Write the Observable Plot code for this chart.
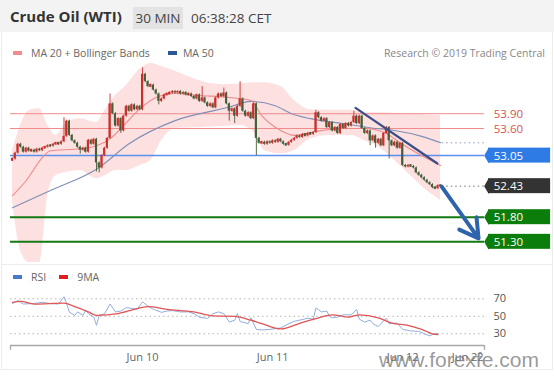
<!DOCTYPE html>
<html><head><meta charset="utf-8">
<script src="https://cdn.jsdelivr.net/npm/d3@7"></script>
<script src="https://cdn.jsdelivr.net/npm/@observablehq/plot@0.6"></script>
<style>
body{margin:0;background:#fff;font-family:"Open Sans",sans-serif;}
#root{position:relative;width:554px;height:376px;overflow:hidden;background:#fff;}
.abs{position:absolute;white-space:nowrap;}
#frame{left:1px;top:32px;width:550px;height:337px;border:1px solid #ececec;border-top:none;}
#sep{left:1px;top:264px;width:551px;height:1px;background:#ececec;}
#header{left:0;top:0;width:554px;height:32px;background:#f3f3f3;}
#title{left:10px;top:6px;font-size:15px;font-weight:bold;color:#333;}
#tf{left:133px;top:7px;width:50px;height:22px;background:#e3e3e3;font-size:13.5px;color:#444;line-height:22px;text-align:center;}
#clock{left:191px;top:6px;font-size:13.5px;color:#444;line-height:24px;}
.leg{font-size:10.5px;color:#666;line-height:14px;}
.sw{display:inline-block;width:9px;height:4px;vertical-align:middle;margin-right:9px;position:relative;top:-1px;}
#credit{right:9px;top:46px;font-size:10.5px;color:#888;line-height:14px;}
#wm{left:379px;top:348px;font-family:"Liberation Sans",Arial,sans-serif;font-size:21px;line-height:24px;color:rgba(120,120,120,0.75);}
</style></head>
<body><div id="root">
<div id="header" class="abs"></div>
<div id="title" class="abs">Crude Oil (WTI)</div>
<div id="tf" class="abs">30 MIN</div>
<div id="clock" class="abs">06:38:28 CET</div>
<div id="frame" class="abs"></div>
<div id="sep" class="abs"></div>
<div class="abs leg" style="left:13px;top:46px;"><span class="sw" style="background:#f28b8b"></span>MA 20 + Bollinger Bands<span class="sw" style="background:#2b5797;margin-left:18px;margin-right:6px"></span>MA 50</div>
<div id="credit" class="abs">Research © 2019 Trading Central</div>
<div id="main" class="abs" style="left:0;top:60px;"></div>
<div class="abs leg" style="left:13px;top:270px;"><span class="sw" style="background:#4a78c8"></span>RSI<span class="sw" style="background:#e02020;margin-left:13px"></span>9MA</div>
<div id="rsi" class="abs" style="left:0;top:285px;"></div>
<div id="wm" class="abs">www.forexfe.com</div>
</div>
<script>
// ---------- data ----------
const firstOpen = 52.95;
const closes = [52.98,53.10,53.28,53.22,53.12,53.20,53.14,53.16,53.12,53.18,
53.15,53.20,53.22,53.25,53.24,53.28,53.30,53.28,53.33,53.44,
53.75,53.46,53.35,53.30,53.22,53.16,53.20,53.12,53.36,53.28,
53.38,52.90,52.80,53.05,53.20,53.40,54.10,53.90,53.65,53.80,
53.55,53.85,54.05,53.95,54.08,53.98,54.05,53.98,54.70,54.55,
54.45,54.48,54.38,54.30,54.15,54.20,54.28,54.30,54.32,54.35,
54.32,54.35,54.30,54.33,54.28,54.30,54.25,54.20,54.28,54.15,
54.22,54.12,54.05,54.10,54.02,54.22,54.30,54.25,54.32,54.10,
53.95,54.00,53.85,54.05,54.20,53.95,53.85,53.92,53.80,54.10,
53.40,53.30,53.32,53.28,53.33,53.30,53.35,53.32,53.38,53.33,
53.28,53.26,53.32,53.36,53.40,53.45,53.42,53.48,53.45,53.50,
53.48,53.52,53.92,53.82,53.75,53.80,53.62,53.72,53.55,53.62,
53.50,53.68,53.60,53.70,53.65,53.72,53.85,53.70,53.85,53.60,
53.50,53.55,53.35,53.45,53.30,53.38,53.25,53.50,53.62,53.35,
53.25,53.32,53.20,53.30,52.85,52.82,52.85,52.83,52.80,52.70,
52.65,52.60,52.55,52.50,52.46,52.40,52.38,52.44,52.43];
const wickHighIdx = [19,36,48,70,78,84,112,126];
const wickHighVal = [53.82,54.30,54.83,54.45,54.42,54.55,53.97,53.95];
const wickLowIdx = [25,31,32,40,54,80,82,90,132,134,139];
const wickLowVal = [53.08,52.72,52.70,53.50,54.08,53.75,53.70,53.05,53.25,53.20,52.98];

const bandIdx = [0,3,6,10,13,16,20,25,31,34,38,42,47,51,55,60,69,77,84,90,93,99,104,110,117,125,130,136,141,147,152,158];
const bandUpper = [53.15,53.66,53.96,54.00,53.66,53.46,53.72,53.80,53.72,53.96,54.27,54.47,54.80,54.92,54.86,54.76,54.57,54.49,54.51,54.53,54.53,54.45,54.17,53.98,53.97,53.97,53.92,53.92,53.91,53.89,53.88,53.86];
const bandLower = [52.14,51.12,50.88,50.88,52.24,52.64,52.71,52.75,52.58,52.64,52.75,52.75,52.85,52.95,53.35,53.60,53.62,53.64,53.66,53.46,53.15,53.09,53.15,53.39,53.46,53.46,53.35,53.19,52.95,52.64,52.38,52.14];

const ma20Idx = [0,5,11,14,25,31,36,42,47,53,60,69,80,88,92,99,104,112,121,130,138,143,151,158];
const ma20Val = [52.24,52.54,53.01,53.15,53.19,53.25,53.39,53.72,54.00,54.23,54.31,54.27,54.23,54.17,53.86,53.56,53.46,53.54,53.60,53.60,53.50,53.31,53.05,52.85];
const ma50Idx = [0,14,32,43,60,79,88,97,103,110,122,134,141,151,158];
const ma50Val = [51.99,52.34,52.81,53.29,53.76,54.02,54.15,54.06,53.90,53.80,53.70,53.60,53.56,53.44,53.31];

const levelValues = [53.90,53.60,53.05,52.43,51.80,51.30];
const levelKinds = ["res","res","pivot","last","sup","sup"];
const ma50Last = 53.31;

const trendIdx = [126.6,156.8];
const trendVal = [54.02,52.89];
const arrowIdx = [158.4,172];
const arrowVal = [52.42,51.37];

const rsiIdx = [0,2,4,7,9,11,14,17,19,20,21,23,24,26,27,28,30,31,32,34,36,38,40,42,44,46,48,50,52,55,57,59,62,65,67,69,72,74,76,78,80,82,83,84,87,88,90,92,95,99,102,104,106,109,111,112,114,116,117,118,120,122,125,127,128,130,132,133,135,137,138,139,141,142,144,147,150,152,154,156,157];
const rsiVal = [64.6,68,64,64.5,65,66,64.5,64,72.3,64.5,54.7,51,55,51,57,53,49,39.7,51,53,64,55,56,60,59,58,66.5,61.6,58,54.5,56,56.5,55,55,53,49,47.5,53,55,53,43.5,45.5,53,44,41.6,48.3,35,34.4,35,36.7,41.6,44.3,45.6,47.8,46.7,59.6,55,56,50,48.3,49,51.7,51.7,57.8,46.7,43.3,45.6,41.6,38.3,45,47.8,41.6,42.2,42.2,35,33.3,32.7,30,27.6,30.6,30];
const ma9Idx = [0,3,8,19,23,28,31,39,45,50,57,67,74,82,88,92,99,106,113,118,124,128,135,140,146,151,155,157];
const ma9Val = [66,67,64,65,61,55,51,53,58,61,58,55,50.5,50,45.5,41.6,35.5,42,48.3,51.7,49,51.7,48.3,42.2,39.7,35,30,29];

const rsiTicks = [30,50,70];
const dateTickIdx = [48,96,144,168];
const dateTickLabels = ["Jun 10","Jun 11","Jun 12","Jun 22"];

// ---------- build tables ----------
const hiMap = new Map(wickHighIdx.map((k,j)=>[k,wickHighVal[j]]));
const loMap = new Map(wickLowIdx.map((k,j)=>[k,wickLowVal[j]]));
const candles = closes.map((c,i)=>{
  const o = i===0 ? firstOpen : closes[i-1];
  const top = Math.max(o,c), bot = Math.min(o,c);
  const pad = (top-bot) < 0.03 ? 0.015 : 0;
  return {i, o, c, up: c>=o,
    b1: bot-pad, b2: top+pad,
    high: hiMap.has(i) ? hiMap.get(i) : top+0.02,
    low: loMap.has(i) ? loMap.get(i) : bot-0.02};
});
const band = bandIdx.map((x,j)=>({x, lo: bandLower[j], hi: bandUpper[j]}));
const ma20 = ma20Idx.map((x,j)=>({x, y: ma20Val[j]}));
const ma50 = ma50Idx.map((x,j)=>({x, y: ma50Val[j]}));
const levels = levelValues.map((v,j)=>({v, kind: levelKinds[j]}));
const trend = trendIdx.map((x,j)=>({x, y: trendVal[j]}));
const rsi = rsiIdx.map((x,j)=>({x, y: rsiVal[j]}));
const ma9 = ma9Idx.map((x,j)=>({x, y: ma9Val[j]}));

const UP = "#c9302c", DOWN = "#43603a";
const boxFill = {pivot:"#2f7be6", last:"#333333", sup:"#0b7d0b"};
const lastI = closes.length - 1;
const xDom = [-0.74, 174.2];
const xEnd = xDom[1];
const boxX1 = 175.7, boxX2 = 198.6, labelX = 177.6;
const halfBox = 0.152;

const main = Plot.plot({
  width: 554, height: 204,
  marginLeft: 10, marginRight: 70, marginTop: 0, marginBottom: 0,
  style: {background: "transparent", fontFamily: "Open Sans, sans-serif"},
  x: {domain: xDom, axis: null},
  y: {domain: [50.84, 54.98], axis: null},
  marks: [
    Plot.areaY(band, {x: "x", y1: "lo", y2: "hi", fill: "#fcd5d5", fillOpacity: 0.75, curve: "monotone-x", clip: true}),
    Plot.ruleY(levels.filter(d=>d.kind==="res"), {y: "v", stroke: "#f08c8c", strokeWidth: 1}),
    Plot.ruleY(levels.filter(d=>d.kind==="pivot"), {y: "v", stroke: "#5b8ff0", strokeWidth: 1.5}),
    Plot.ruleY(levels.filter(d=>d.kind==="sup"), {y: "v", stroke: "#137a13", strokeWidth: 2}),
    Plot.line(ma50, {x: "x", y: "y", stroke: "#7f8fb6", strokeWidth: 1.1, curve: "monotone-x"}),
    Plot.line(ma20, {x: "x", y: "y", stroke: "#f08a8a", strokeWidth: 1.1, curve: "monotone-x"}),
    Plot.ruleX(candles, {x: "i", y1: "low", y2: "high", stroke: d=>d.up?UP:DOWN, strokeWidth: 0.9}),
    Plot.rect(candles, {x1: d=>d.i-0.4, x2: d=>d.i+0.4, y1: "b1", y2: "b2", fill: d=>d.up?UP:DOWN}),
    Plot.line(trend, {x: "x", y: "y", stroke: "#3a4f88", strokeWidth: 2.2}),
    Plot.ruleY(levels.filter(d=>d.kind==="last"), {y: "v", x1: lastI+0.6, x2: xEnd, stroke: "#777", strokeDasharray: "1.5,3"}),
    Plot.ruleY([ma50Last], {x1: lastI+0.6, x2: xEnd, stroke: "#8a9ab8", strokeDasharray: "1.5,3"}),
    Plot.arrow([0], {x1: ()=>arrowIdx[0], y1: ()=>arrowVal[0], x2: ()=>arrowIdx[1], y2: ()=>arrowVal[1], stroke: "#2f64ad", strokeWidth: 4, headLength: 13}),
    Plot.rect(levels.filter(d=>d.kind!=="res"), {x1: boxX1, x2: boxX2, y1: d=>d.v-halfBox, y2: d=>d.v+halfBox, fill: d=>boxFill[d.kind]}),
    Plot.dot(levels.filter(d=>d.kind!=="res"), {x: boxX1, y: "v", symbol: "diamond", r: 4.6, fill: d=>boxFill[d.kind], stroke: null}),
    Plot.text(levels, {x: labelX, y: "v", text: d=>d.v.toFixed(2), textAnchor: "start", fontSize: 11.5,
      fill: d=>d.kind==="res" ? "#d9534f" : "#ffffff", dy: 0.5})
  ]
});
document.getElementById("main").appendChild(main);

const labelMap = new Map(dateTickIdx.map((k,j)=>[k,dateTickLabels[j]]));
const rsiChart = Plot.plot({
  width: 554, height: 80,
  marginLeft: 10, marginRight: 70, marginTop: 0, marginBottom: 20,
  style: {background: "transparent", fontFamily: "Open Sans, sans-serif"},
  x: {domain: xDom, label: null},
  y: {domain: [16.6, 85.2], label: null},
  marks: [
    Plot.ruleY(rsiTicks, {stroke: "#b5b5b5", strokeDasharray: "1.5,3"}),
    Plot.axisY(rsiTicks, {anchor: "right", tickSize: 0, tickPadding: 9, fontSize: 11, color: "#555", textAnchor: "start", label: null}),
    Plot.line(rsi, {x: "x", y: "y", stroke: "#93aedb", strokeWidth: 1}),
    Plot.line(ma9, {x: "x", y: "y", stroke: "#e05555", strokeWidth: 1.3, curve: "monotone-x"}),
    Plot.ruleY([16.6], {stroke: "#a8a8a8", strokeWidth: 1.6}),
    Plot.ruleX([xDom[0], xEnd], {y1: 16.6, y2: 11.0, stroke: "#a8a8a8", strokeWidth: 1.3}),
    Plot.axisX(dateTickIdx, {anchor: "bottom", tickSize: 0, tickPadding: 8, fontSize: 11, color: "#666", tickFormat: d=>labelMap.get(d), label: null})
  ]
});
document.getElementById("rsi").appendChild(rsiChart);
</script>
</body></html>
